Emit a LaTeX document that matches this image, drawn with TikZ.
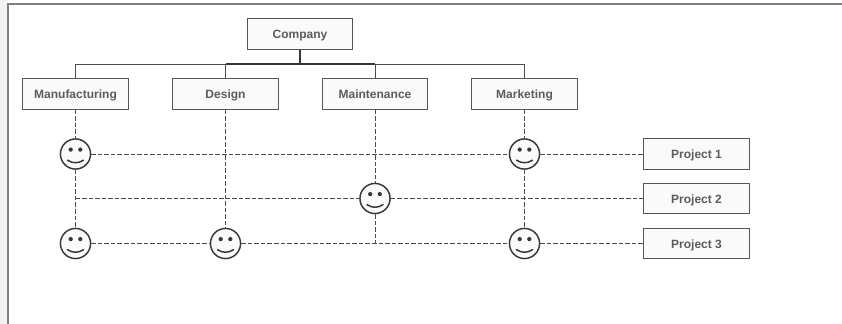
\documentclass[tikz,border=0pt]{standalone}
\usepackage{fontspec}
\setmainfont{Liberation Sans}
\definecolor{linegray}{gray}{0.22}
\definecolor{thingray}{gray}{0.3}
\definecolor{textgray}{gray}{0.36}
\definecolor{facefill}{gray}{0.98}
\tikzset{
    unitbox/.style={draw=linegray!85!white, fill=facefill, line width=0.8pt, minimum width=79.2pt, minimum height=22.6pt, inner sep=0pt,
        text=textgray, font=\fontsize{9pt}{11pt}\selectfont\bfseries, text height=8pt, text depth=1.2pt},
    face/.style={draw=linegray, fill=facefill, circle, line width=1.1pt, minimum size=22.6pt, inner sep=0pt},
    solidline/.style={draw=thingray, line width=0.6pt},
    mainline/.style={draw=linegray, line width=1.2pt},
    dashline/.style={draw=thingray, line width=0.6pt, dash pattern=on 3.4pt off 1.5pt},
}
\begin{document}
\begin{tikzpicture}[x=0.75pt, y=-0.75pt]
    \useasboundingbox (0,0) rectangle (842,324);
    \fill[black!5] (0,0) rectangle (8,324);
    \fill[white] (8,4) rectangle (842,324);
    \draw[gray, line width=0.8pt] (8,324) -- (8,4) -- (842,4);
    \node[unitbox] (company) at (300,34) {Company};
    \foreach \name/\x/\label in {manufacturing/75.5/Manufacturing, design/225.5/Design, maintenance/375/Maintenance, marketing/524.5/Marketing} {
        \node[unitbox] (\name) at (\x,94) {\label};
    }
    \foreach \name/\y/\label in {project1/154/Project 1, project2/198.5/Project 2, project3/243.5/Project 3} {
        \node[unitbox] (\name) at (696.5,\y) {\label};
    }
    \coordinate (bus) at (300,64);
    \coordinate (rowstart) at (manufacturing.south |- project2);
    \coordinate (rowend) at (maintenance.south |- project3);
    \foreach \name/\x/\y in {manuone/75.5/154, manuthree/75.5/243.5, designthree/225.5/243.5, mainttwo/375/198.5, markone/524.5/154, markthree/524.5/243.5} {
        \node[face] (\name) at (\x,\y) {};
        \fill[linegray] ([shift={(-4.8,-4.4)}]\name.center) circle (1.6pt);
        \fill[linegray] ([shift={(4.8,-4.4)}]\name.center) circle (1.6pt);
        \draw[linegray, line width=1.1pt, line cap=round] ([shift={(-8,6.2)}]\name.center) .. controls ([shift={(-3,9.6)}]\name.center) and ([shift={(3,9.6)}]\name.center) .. ([shift={(8,6.2)}]\name.center);
    }
    \draw[solidline] (manufacturing.north) |- (bus);
    \draw[solidline] (marketing.north) |- (bus);
    \draw[solidline] (design.north) |- (bus);
    \draw[solidline] (maintenance.north) |- (bus);
    \draw[mainline] (company.south) -- (bus);
    \draw[mainline] (design.north |- bus) -- (maintenance.north |- bus);
    \draw[dashline] (manufacturing.south) -- (manuone);
    \draw[dashline] (manuone) -- (manuthree);
    \draw[dashline] (design.south) -- (designthree);
    \draw[dashline] (maintenance.south) -- (mainttwo);
    \draw[dashline] (mainttwo) -- (rowend);
    \draw[dashline] (marketing.south) -- (markone);
    \draw[dashline] (markone) -- (markthree);
    \draw[dashline] (manuone) -- (markone);
    \draw[dashline] (markone) -- (project1);
    \draw[dashline] (rowstart) -- (mainttwo);
    \draw[dashline] (mainttwo) -- (project2);
    \draw[dashline] (manuthree) -- (designthree);
    \draw[dashline] (designthree) -- (markthree);
    \draw[dashline] (markthree) -- (project3);
\end{tikzpicture}
\end{document}
